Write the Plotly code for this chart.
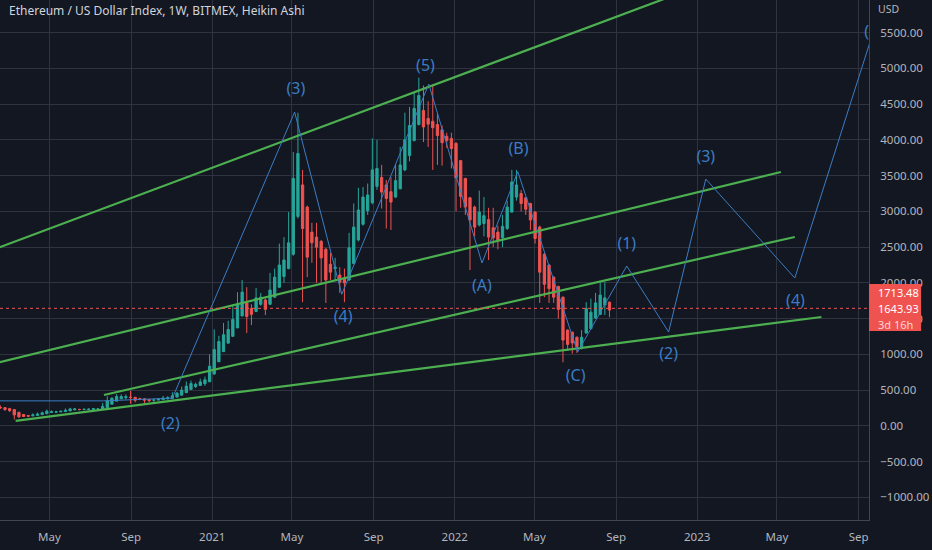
import pandas as pd
import plotly.graph_objects as go

# Chart text
chart_title = "Ethereum / US Dollar Index, 1W, BITMEX, Heikin Ashi"
first_week = "2020-02-17"
last_price = 1643.93
ha_last = 1713.48
bar_countdown = "3d 16h"

# Weekly Heikin Ashi candles
ha_open = [258, 255, 241, 228, 191, 159, 145, 140, 147, 157, 170, 188, 193, 195, 200, 209, 223, 230, 229, 229,
           231, 235, 236, 255, 304, 346, 379, 395, 402, 400, 380, 378, 369, 361, 361, 367, 378, 386, 403, 430,
           465, 510, 551, 566, 590, 617, 726, 897, 1038, 1157, 1252, 1370, 1537, 1720, 1640, 1600, 1700, 1760, 1700, 1800,
           1940, 2090, 2200, 2400, 2930, 3370, 3060, 2710, 2640, 2580, 2470, 2260, 2200, 2110, 2060, 2040, 2270, 2600, 2820, 3010,
           3120, 3350, 3475, 3370, 3275, 3200, 3315, 3580, 3780, 3990, 4215, 4410, 4300, 4260, 4215, 4140, 4050, 4020, 3950, 3710,
           3460, 3190, 3060, 2810, 2830, 2885, 2770, 2710, 2630, 2760, 2990, 3200, 3250, 3190, 3110, 2990, 2780, 2400, 2250, 2080,
           1950, 1800, 1340, 1310, 1240, 1110, 1300, 1360, 1510, 1560, 1690, 1730]
ha_high = [287, 262, 253, 228, 191, 159, 150, 175, 187, 200, 228, 216, 210, 215, 245, 253, 250, 240, 249, 247,
           250, 245, 320, 415, 400, 445, 440, 440, 490, 400, 395, 390, 369, 380, 390, 420, 415, 470, 475, 550,
           620, 635, 605, 660, 690, 1000, 1350, 1260, 1440, 1470, 1700, 1870, 2040, 1940, 1700, 1930, 1860, 1780, 2140, 2200,
           2550, 2640, 2990, 3830, 4380, 3580, 3080, 2840, 2840, 2600, 2490, 2420, 2350, 2220, 2200, 2700, 3110, 3330, 3340, 3390,
           4020, 4000, 3650, 3440, 3480, 3660, 3900, 4380, 4460, 4660, 4870, 4760, 4540, 4780, 4370, 4200, 4100, 4100, 3970, 3720,
           3470, 3200, 3080, 3290, 3200, 3050, 3050, 2800, 2950, 3150, 3580, 3580, 3300, 3200, 3120, 3000, 2800, 2420, 2260, 2090,
           1960, 1810, 1350, 1320, 1250, 1340, 1730, 1780, 1860, 2010, 2010, 1740]
ha_low = [240, 210, 194, 90, 110, 124, 124, 138, 146, 156, 169, 180, 180, 194, 196, 208, 222, 216, 218, 220,
          230, 230, 232, 254, 303, 345, 378, 370, 310, 330, 360, 310, 335, 335, 360, 365, 370, 370, 402, 429,
          464, 509, 530, 565, 560, 616, 715, 896, 1037, 1156, 1251, 1369, 1536, 1300, 1410, 1590, 1680, 1550, 1690, 1790,
          1930, 2000, 2190, 2380, 2900, 1730, 2080, 2280, 2000, 2000, 1720, 2040, 2040, 1860, 1730, 2030, 2260, 2580, 2800, 2950,
          3100, 3300, 3040, 2760, 2740, 3190, 3310, 3560, 3700, 3980, 4200, 3970, 3900, 3580, 3650, 3640, 3890, 3600, 3000, 3050,
          2950, 2180, 2650, 2790, 2650, 2320, 2500, 2470, 2500, 2740, 2980, 3150, 3000, 2950, 2740, 2550, 1720, 1800, 1720, 1720,
          1500, 890, 1050, 1010, 1020, 1070, 1290, 1350, 1500, 1550, 1550, 1520]
ha_close = [252, 228, 214, 154, 127, 131, 136, 154, 166, 183, 206, 198, 196, 204, 218, 237, 237, 229, 230, 233,
            240, 236, 273, 353, 387, 411, 410, 409, 397, 359, 376, 360, 352, 362, 373, 390, 394, 420, 458, 500,
            556, 592, 581, 615, 644, 835, 1067, 1180, 1275, 1348, 1488, 1703, 1871, 1530, 1560, 1790, 1800, 1630, 1900, 2080,
            2250, 2320, 2560, 3460, 3810, 2760, 2360, 2560, 2500, 2350, 2040, 2150, 2220, 2010, 2000, 2490, 2780, 3020, 3200, 3230,
            3580, 3600, 3270, 3180, 3130, 3430, 3650, 4000, 4200, 4440, 4620, 4180, 4220, 4170, 4060, 3960, 3990, 3880, 3470, 3210,
            3060, 2880, 2780, 2990, 2940, 2640, 2630, 2590, 2790, 3060, 3410, 3370, 3110, 3030, 2880, 2620, 2150, 1980, 1920, 1800,
            1630, 1200, 1140, 1160, 1110, 1240, 1640, 1590, 1720, 1830, 1790, 1620]

weeks = pd.date_range(first_week, periods=len(ha_close), freq="7D")

# Elliott wave path (blue)
wave_dates = ["2020-02-09", "2020-07-21", "2020-11-02", "2021-05-05", "2021-07-15", "2021-11-23",
              "2022-02-11", "2022-04-06", "2022-07-05", "2022-09-17", "2022-11-19", "2023-01-14",
              "2023-05-28", "2023-10-10"]
wave_values = [350, 350, 388, 4388, 1840, 4780, 2278, 3555, 1033, 2236, 1313, 3452, 2068, 6004]

# Wave labels
wave_labels = ["(2)", "(3)", "(4)", "(5)", "(A)", "(B)", "(C)", "(1)", "(2)", "(3)", "(4)", "("]
label_dates = ["2020-10-30", "2021-05-07", "2021-07-17", "2021-11-18", "2022-02-11", "2022-04-07",
               "2022-07-02", "2022-09-17", "2022-11-19", "2023-01-14", "2023-05-29", "2023-09-13"]
label_values = [10, 4697, 1509, 5019, 1942, 3858, 684, 2530, 991, 3746, 1733, 5494]

# Green trend lines (start / end)
trend_start_dates = ["2020-02-02", "2020-02-02", "2020-07-22", "2020-03-11"]
trend_start_values = [2450, 860, 432, 69]
trend_end_dates = ["2022-12-05", "2023-05-07", "2023-05-28", "2023-07-07"]
trend_end_values = [6050, 3551, 2642, 1523]

# Time axis labels
month_ticks = ["2020-05-01", "2020-09-01", "2021-01-01", "2021-05-01", "2021-09-01", "2022-01-01",
               "2022-05-01", "2022-09-01", "2023-01-01", "2023-05-01", "2023-09-01"]
month_text = ["May", "Sep", "2021", "May", "Sep", "2022", "May", "Sep", "2023", "May", "Sep"]

bg = "#131722"
grid = "#2f3340"
axis_text = "#b2b5be"
wave_blue = "#3b7dc4"
up = "#26a69a"
down = "#ef5350"
font_family = "Noto Sans"

fig = go.Figure()

fig.add_trace(go.Candlestick(
    x=weeks, open=ha_open, high=ha_high, low=ha_low, close=ha_close,
    increasing=dict(line=dict(color=up, width=1), fillcolor=up),
    decreasing=dict(line=dict(color=down, width=1), fillcolor=down),
    whiskerwidth=0, hoverinfo="skip",
))

for i in range(len(trend_start_dates)):
    fig.add_trace(go.Scatter(
        x=[trend_start_dates[i], trend_end_dates[i]],
        y=[trend_start_values[i], trend_end_values[i]],
        mode="lines", line=dict(color="#4caf50", width=2.2), hoverinfo="skip",
    ))

fig.add_trace(go.Scatter(
    x=wave_dates, y=wave_values, mode="lines",
    line=dict(color=wave_blue, width=1), hoverinfo="skip",
))

fig.add_trace(go.Scatter(
    x=label_dates, y=label_values, mode="text", text=wave_labels,
    textfont=dict(color=wave_blue, size=16, family=font_family), hoverinfo="skip",
))

# current price line
fig.add_shape(type="line", xref="paper", x0=0, x1=1, yref="y", y0=last_price, y1=last_price,
              line=dict(color=down, width=1, dash="dot"))

# price label on the scale
fig.add_shape(type="rect", xref="paper", x0=1.0, x1=1.06, yref="y", y0=1327, y1=1984,
              fillcolor=down, line=dict(width=0), layer="above")
fig.add_annotation(xref="paper", x=1.008, xanchor="left", yref="y", y=1872, text=f"{ha_last:.2f}",
                   showarrow=False, font=dict(color="white", size=11, family=font_family))
fig.add_annotation(xref="paper", x=1.008, xanchor="left", yref="y", y=1648, text=f"{last_price:.2f}",
                   showarrow=False, font=dict(color="white", size=11, family=font_family))
fig.add_annotation(xref="paper", x=1.008, xanchor="left", yref="y", y=1425, text=bar_countdown,
                   showarrow=False, font=dict(color="#ffd6d6", size=11, family=font_family))

fig.add_annotation(xref="paper", yref="paper", x=0.008, y=1.0, xanchor="left", yanchor="top",
                   text=chart_title, showarrow=False,
                   font=dict(color="#d1d4dc", size=12, family=font_family))
fig.add_annotation(xref="paper", yref="paper", x=1.008, y=1.0, xanchor="left", yanchor="top",
                   text="USD", showarrow=False, font=dict(color=axis_text, size=10.5, family=font_family))

fig.update_layout(
    width=932, height=550,
    margin=dict(l=0, r=63, t=0, b=30),
    paper_bgcolor=bg, plot_bgcolor=bg,
    showlegend=False,
    font=dict(family=font_family, color=axis_text, size=11),
    xaxis=dict(
        type="date", range=["2020-02-16 12:00", "2023-09-16 16:00"],
        tickvals=month_ticks, ticktext=month_text,
        showgrid=True, gridcolor=grid, gridwidth=1,
        showline=True, linecolor="#434651", linewidth=1, mirror=False,
        ticks="", ticklabelstandoff=6, tickfont=dict(color=axis_text, size=11.5),
        rangeslider=dict(visible=False), zeroline=False,
    ),
    yaxis=dict(
        side="right", range=[-1316, 5956], tick0=0, dtick=500, tickformat=".2f",
        showgrid=True, gridcolor=grid, gridwidth=1, zeroline=False,
        showline=True, linecolor="#434651", linewidth=1,
        ticks="", ticklabelstandoff=8, tickfont=dict(color=axis_text, size=11.5),
    ),
)

# the page body has a default margin; drop it so the chart sits at the window corner
fig.write_html("out.html", config={"displayModeBar": False},
               post_script="document.body.style.margin='0';")
